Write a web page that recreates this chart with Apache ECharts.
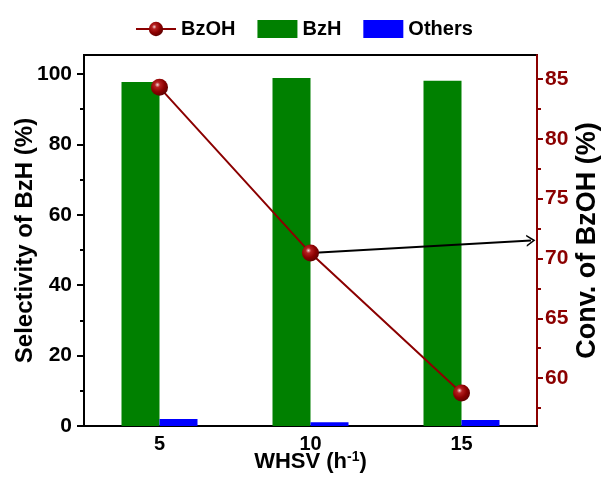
<!DOCTYPE html>
<html>
<head>
<meta charset="utf-8">
<script src="https://cdn.jsdelivr.net/npm/echarts@6/dist/echarts.min.js"></script>
<style>
  html, body { margin: 0; padding: 0; background: #fff; }
  #chart { width: 603px; height: 478px; }
</style>
</head>
<body>
<div id="chart"></div>
<script>
// WHSV settings on the x axis
const whsv = ['5', '10', '15'];
// Selectivity (%) to benzaldehyde and to other products
const selBzH = [97.7, 98.9, 98.1];
const selOthers = [2.0, 1.1, 1.7];
// Benzyl alcohol conversion (%)
const convBzOH = [84.3, 70.45, 58.75];

// Axis ticks
const leftTicks = [0, 20, 40, 60, 80, 100];
const leftMinorTicks = [10, 30, 50, 70, 90];
const rightTicks = [60, 65, 70, 75, 80, 85];
const rightMinorTicks = [57.5, 62.5, 67.5, 72.5, 77.5, 82.5];

// Arrow from the 10 h-1 conversion point towards the right axis
// (x given as a category position, 0 = first band centre)
const arrowFrom = [1, 70.45];
const arrowTo = [2.46, 71.5];

const FONT = '"Liberation Sans", Arial, Helvetica, sans-serif';
const DARKRED = '#8b0000';

const sphere = {
  type: 'radial', x: 0.38, y: 0.35, r: 0.7,
  colorStops: [
    { offset: 0, color: '#f4dada' },
    { offset: 0.22, color: '#b52020' },
    { offset: 0.6, color: '#8b0000' },
    { offset: 1, color: '#5a0000' }
  ]
};

const chart = echarts.init(document.getElementById('chart'), null, { renderer: 'canvas' });

const leftRange = { min: 0, max: 105.4 };
const rightRange = { min: 56, max: 87 };

chart.setOption({
  animation: false,
  textStyle: { fontFamily: FONT },
  legend: {
    top: 14,
    left: 130,
    itemWidth: 40,
    itemHeight: 18,
    itemGap: 22,
    textStyle: { fontFamily: FONT, fontSize: 20, fontWeight: 'bold', color: '#000' },
    data: ['BzOH', { name: 'BzH', icon: 'rect' }, { name: 'Others', icon: 'rect' }]
  },
  grid: {
    left: 84, right: 66, top: 55, bottom: 52,
    containLabel: false,
    outerBoundsMode: 'none',
    show: true, borderColor: '#000', borderWidth: 2
  },
  xAxis: [
    {
      type: 'category',
      data: whsv,
      boundaryGap: true,
      axisLine: { onZero: false, lineStyle: { color: '#000', width: 2 } },
      axisTick: { alignWithLabel: true, length: 6, lineStyle: { color: '#000', width: 2 } },
      axisLabel: { color: '#000', fontSize: 20, fontWeight: 'bold', margin: 8 },
      name: '{t|WHSV (h}{s|-1}{t|)}',
      nameLocation: 'middle',
      nameGap: 24,
      nameMoveOverlap: false,
      nameTextStyle: {
        rich: {
          t: { fontFamily: FONT, fontSize: 22, fontWeight: 'bold', color: '#000' },
          s: { fontFamily: FONT, fontSize: 14, fontWeight: 'bold', color: '#000', verticalAlign: 'top', padding: [0, 0, 10, 0] }
        }
      }
    },
    {
      // hidden numeric twin of the category axis, used to place the arrow
      type: 'value', min: -0.5, max: 2.5, show: false,
      axisLine: { show: false, onZero: false }
    }
  ],
  yAxis: [
    {
      type: 'value', position: 'left', ...leftRange,
      splitLine: { show: false },
      axisLine: { show: true, onZero: false, lineStyle: { color: '#000', width: 2 } },
      axisTick: { show: true, length: 7, customValues: leftTicks, lineStyle: { color: '#000', width: 2 } },
      axisLabel: { customValues: leftTicks, color: '#000', fontSize: 21, fontWeight: 'bold', margin: 12 },
      name: 'Selectivity of BzH (%)',
      nameLocation: 'middle',
      nameGap: 47,
      nameMoveOverlap: false,
      nameTextStyle: { fontFamily: FONT, fontSize: 24, fontWeight: 'bold', color: '#000' }
    },
    {
      type: 'value', position: 'left', ...leftRange,
      splitLine: { show: false },
      axisLine: { show: false, onZero: false },
      axisTick: { show: true, length: 4, customValues: leftMinorTicks, lineStyle: { color: '#000', width: 2 } },
      axisLabel: { show: false }
    },
    {
      type: 'value', position: 'right', ...rightRange,
      splitLine: { show: false },
      axisLine: { show: true, onZero: false, lineStyle: { color: DARKRED, width: 2 } },
      axisTick: { show: true, length: 6, customValues: rightTicks, lineStyle: { color: DARKRED, width: 2 } },
      axisLabel: { customValues: rightTicks, color: DARKRED, fontSize: 21, fontWeight: 'bold', margin: 8 },
      name: 'Conv. of BzOH (%)',
      nameLocation: 'middle',
      nameGap: 37,
      nameMoveOverlap: false,
      nameTextStyle: { fontFamily: FONT, fontSize: 27, fontWeight: 'bold', color: '#000' }
    },
    {
      type: 'value', position: 'right', ...rightRange,
      splitLine: { show: false },
      axisLine: { show: false, onZero: false },
      axisTick: { show: true, length: 4, customValues: rightMinorTicks, lineStyle: { color: DARKRED, width: 2 } },
      axisLabel: { show: false }
    }
  ],
  series: [
    {
      name: 'BzH', type: 'bar', yAxisIndex: 0,
      data: selBzH, barWidth: 38, barGap: '0%',
      itemStyle: { color: '#008000' }
    },
    {
      name: 'Others', type: 'bar', yAxisIndex: 0,
      data: selOthers, barWidth: 38, barGap: '0%',
      itemStyle: { color: '#0000ff' }
    },
    {
      name: 'BzOH', type: 'line', yAxisIndex: 2,
      data: convBzOH,
      symbol: 'circle', symbolSize: 17,
      lineStyle: { color: DARKRED, width: 2 },
      itemStyle: { color: sphere, borderWidth: 0 },
      z: 5
    },
    {
      // annotation arrow only
      type: 'line', xAxisIndex: 1, yAxisIndex: 2,
      data: [], silent: true, z: 4,
      markLine: {
        silent: true,
        animation: false,
        symbol: ['none', 'path://M0,10 L5,0 L10,10 L8.6,10 L5,3 L1.4,10 Z'],
        symbolSize: [12, 9],
        lineStyle: { color: '#000', width: 2, type: 'solid' },
        label: { show: false },
        data: [[{ coord: arrowFrom }, { coord: arrowTo }]]
      }
    }
  ]
});
</script>
</body>
</html>
